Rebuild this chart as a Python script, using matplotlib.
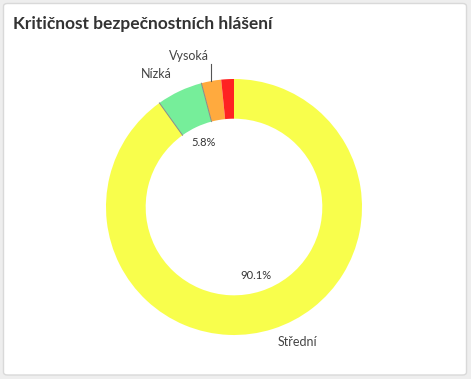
import numpy as np
import matplotlib
matplotlib.use("Agg")
import matplotlib.pyplot as plt
from matplotlib.patches import FancyBboxPatch

plt.rcParams["font.family"] = ["Lato", "DejaVu Sans"]

labels = ["Střední", "Nízká", "Vysoká", "Kritická"]
values = [90.1, 5.8, 2.5, 1.6]
colors = ["#f8fe4c", "#76ee9a", "#ffaa3e", "#ff2222"]
show_name = [True, True, True, False]
show_pct = [True, True, False, False]
title = "Kritičnost bezpečnostních hlášení"

W, H = 471, 379
fig = plt.figure(figsize=(W / 100, H / 100), dpi=100)
fig.patch.set_facecolor("#eeeeee")

# card
card = FancyBboxPatch((3.5 / W, 4 / H), 463 / W, 371.5 / H,
                      boxstyle="round,pad=0,rounding_size=0.008",
                      transform=fig.transFigure, facecolor="white",
                      edgecolor="#d9d9d9", linewidth=1.0, zorder=-5)
fig.patches.append(card)
fig.text(13 / W, 1 - 28.5 / H, title, fontsize=12.5, fontweight="bold",
         color="#333333", va="baseline", ha="left")

# donut axes: centre (234, 207) px, outer radius 129 px
cx, cy, R = 234, 207, 129
half = 160
ax = fig.add_axes([(cx - half) / W, (H - cy - half) / H, 2 * half / W, 2 * half / H])
ax.set_zorder(2)
ax.patch.set_visible(False)
ax.set_xlim(-half / R, half / R)
ax.set_ylim(-half / R, half / R)
ax.set_aspect("equal")
ax.axis("off")

inner = 0.69
wedges, _ = ax.pie(values, colors=colors, startangle=90, counterclock=False,
                   radius=1.0, wedgeprops=dict(width=1 - inner, linewidth=0))

total = sum(values)
cum = np.cumsum([0] + values) / total * 360
# thin grey borders on both radial edges of the "Nízká" slice
for a in (cum[1], cum[2]):
    t = np.deg2rad(a)
    ax.plot([inner * np.sin(t), np.sin(t)], [inner * np.cos(t), np.cos(t)],
            color="#8a8a8a", lw=0.7, zorder=3)

for i, v in enumerate(values):
    mid = np.deg2rad((cum[i] + cum[i + 1]) / 2)  # clockwise from top
    dx, dy = np.sin(mid), np.cos(mid)
    if show_pct[i]:
        ax.text(0.56 * dx, 0.56 * dy, f"{v / total * 100:.1f}%", fontsize=8,
                color="#333333", ha="center", va="center")
    if not show_name[i]:
        continue
    if labels[i] == "Vysoká":
        x0 = dx * 1.0
        y1 = 1.12
        ax.plot([x0, x0], [dy * 1.0, y1], color="#555555", lw=0.8)
        ax.text(x0 - 0.02, y1 + 0.01, labels[i], fontsize=9, color="#444444",
                ha="right", va="bottom")
    else:
        d = 1.15 if dy > 0 else 1.11
        ax.text(d * dx, d * dy, labels[i], fontsize=9, color="#444444",
                ha="left" if dx > 0 else "right", va="center")

fig.savefig("out.png", dpi=100, facecolor=fig.get_facecolor())
